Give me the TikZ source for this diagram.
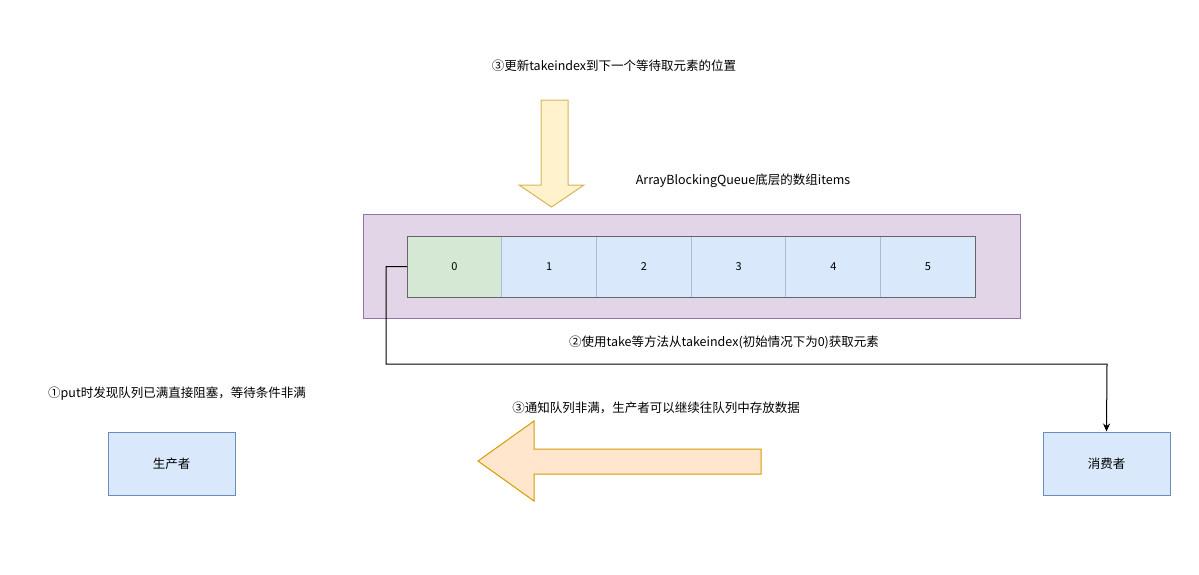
\documentclass[tikz,border=0pt]{standalone}
\usepackage{fontspec}
\setmainfont{Noto Sans CJK SC}
\usetikzlibrary{positioning,arrows.meta}
\definecolor{bluefill}{HTML}{DAE8FC}
\definecolor{bluedraw}{HTML}{6C8EBF}
\definecolor{greenfill}{HTML}{D5E8D4}
\definecolor{greendraw}{HTML}{82B366}
\definecolor{purplefill}{HTML}{E1D5E7}
\definecolor{purpledraw}{HTML}{9673A6}
\definecolor{yellowfill}{HTML}{FFF2CC}
\definecolor{yellowdraw}{HTML}{D6B656}
\definecolor{orangefill}{HTML}{FFE6CC}
\definecolor{orangedraw}{HTML}{D79B00}
\tikzset{
  cell/.style={draw=bluedraw!60,fill=bluefill,minimum width=94.7pt,minimum height=61pt,inner sep=0pt,outer sep=0pt,font=\fontsize{11}{13}\selectfont},
  role/.style={draw=bluedraw,fill=bluefill,minimum width=127pt,minimum height=63pt,font=\fontsize{12.5}{15}\selectfont},
  note/.style={font=\fontsize{12.5}{15}\selectfont}
}
\begin{document}
\begin{tikzpicture}[x=1pt,y=-1pt,line width=1pt]
\useasboundingbox (0,0) rectangle (1199,574);
% array container
\node (queue) [draw=purpledraw,fill=purplefill,minimum width=657pt,minimum height=104pt,inner sep=0pt] at (691.5,266) {};
\node (c0) [cell,draw=greendraw!70,fill=greenfill] at (454.5,266.5) {0};
\node (c1) [cell,right=0pt of c0] {1};
\node (c2) [cell,right=0pt of c1] {2};
\node (c3) [cell,right=0pt of c2] {3};
\node (c4) [cell,right=0pt of c3] {4};
\node (c5) [cell,right=0pt of c4] {5};
\draw[black!60] (c0.north west) rectangle (c5.south east);
\node (title) [note] at (743,181) {ArrayBlockingQueue底层的数组items};
% roles
\node (producer) [role] at (171.5,463.5) {生产者};
\node (consumer) [role] at (1106.5,463.5) {消费者};
% texts
\node (step3top) [note] at (614,66) {③更新takeindex到下一个等待取元素的位置};
\node (step2) [note] at (724,342) {②使用take等方法从takeindex(初始情况下为0)获取元素};
\node (step1) [note] at (177,394) {①put时发现队列已满直接阻塞，等待条件非满};
\node (step3) [note] at (656,408) {③通知队列非满，生产者可以继续往队列中存放数据};
% take connector
\draw[-{Stealth[length=8pt,width=7pt]}] (c0.west) -- ++(-21,0) |- (1107,364) -- (consumer.north);
% block arrows
\draw[draw=yellowdraw,fill=yellowfill] (541,100) -- (568,100) -- (568,185) -- (584,185) -- (551.5,207) -- (519,185) -- (541,185) -- cycle;
\draw[draw=orangedraw,fill=orangefill] (761,449) -- (534,449) -- (534,421) -- (478,461) -- (534,501) -- (534,474) -- (761,474) -- cycle;
\end{tikzpicture}
\end{document}
